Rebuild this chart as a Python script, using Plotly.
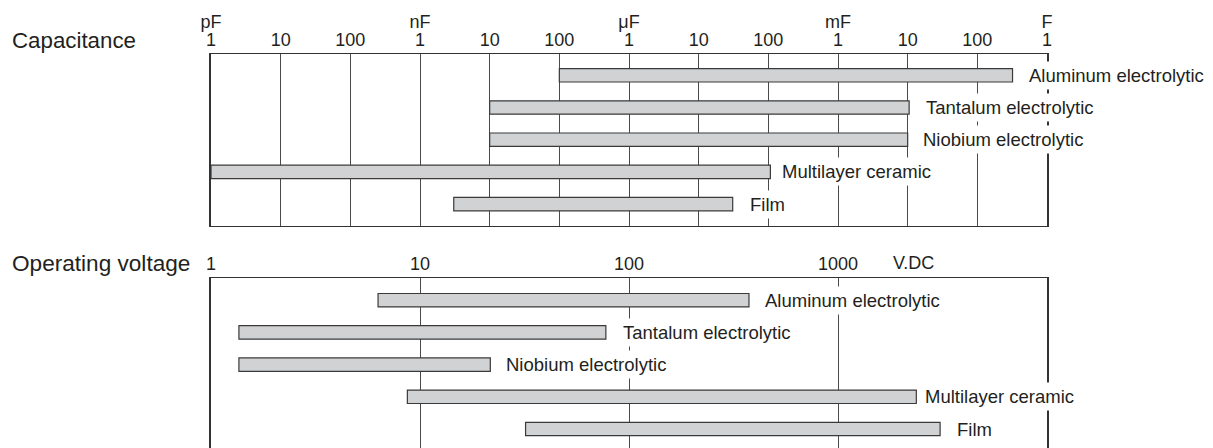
import math
import plotly.graph_objects as go

# ---------------- data ----------------
categories = ["Aluminum electrolytic", "Tantalum electrolytic", "Niobium electrolytic",
              "Multilayer ceramic", "Film"]

# capacitance ranges in farads
cap_low = [1e-7, 1e-8, 1e-8, 1e-12, 3.05e-9]
cap_high = [0.32, 0.0105, 0.01, 1.07e-4, 3.08e-5]

# operating voltage ranges in V.DC
volt_low = [6.3, 1.36, 1.36, 8.7, 32]
volt_high = [375, 77.5, 21.7, 2370, 3080]

cap_tickvals = [1e-12, 1e-11, 1e-10, 1e-9, 1e-8, 1e-7, 1e-6, 1e-5, 1e-4, 1e-3, 1e-2, 1e-1, 1e0]
cap_ticktext = ["1", "10", "100", "1", "10", "100", "1", "10", "100", "1", "10", "100", "1"]
cap_unitvals = [1e-12, 1e-9, 1e-6, 1e-3, 1e0]
cap_unittext = ["pF", "nF", "μF", "mF", "F"]

volt_tickvals = [1, 10, 100, 1000]
volt_ticktext = ["1", "10", "100", "1000"]
volt_unit = "V.DC"

# ---------------- layout helpers ----------------
PAGE_OFF = 8                      # body margin of the html page
W, H = 1213 - PAGE_OFF, 448 - PAGE_OFF
FONT = "Liberation Sans, Arial, Helvetica, sans-serif"
TXT = "#231f20"
GRID = "#4a4a4a"
BAR_FILL = "#d1d2d4"
BAR_LINE = "#3a3a3a"

def px_x(x):
    return (x - PAGE_OFF) / W

def px_y(y):
    return 1 - (y - PAGE_OFF) / H

PX0, PX1 = 211, 1047
TOP_Y0, TOP_Y1 = 54, 226
BOT_Y0, BOT_Y1 = 278, 448
ROW = 32.2
BAR_T = 13.4

n = len(categories)
rows = list(range(n))

def yrange(y0, y1, first):
    top = -first / ROW
    bottom = top + (y1 - y0) / ROW
    return [bottom, top]

cap_gap = [16, 17, 15, 12, 17]
volt_gap = [16, 17, 16, 9, 17]

fig = go.Figure()

fig.add_trace(go.Bar(
    y=rows, x=[h - l for l, h in zip(cap_low, cap_high)], base=cap_low,
    orientation="h", width=BAR_T / ROW,
    marker=dict(color=BAR_FILL, line=dict(color=BAR_LINE, width=1.2)),
    xaxis="x", yaxis="y", hoverinfo="skip", showlegend=False))

fig.add_trace(go.Bar(
    y=rows, x=[h - l for l, h in zip(volt_low, volt_high)], base=volt_low,
    orientation="h", width=BAR_T / ROW,
    marker=dict(color=BAR_FILL, line=dict(color=BAR_LINE, width=1.2)),
    xaxis="x2", yaxis="y2", hoverinfo="skip", showlegend=False))

# invisible trace for the unit axis
fig.add_trace(go.Scatter(x=[cap_unitvals[0]], y=[0], xaxis="x3", yaxis="y",
                         mode="markers", marker=dict(opacity=0), hoverinfo="skip",
                         showlegend=False))

dom_x = [px_x(PX0), px_x(PX1)]
axis_common = dict(type="log", showline=True, linecolor="#333333", linewidth=1.3,
                   showgrid=True, gridcolor=GRID, gridwidth=1, ticks="",
                   tickfont=dict(family=FONT, size=18, color=TXT), zeroline=False,
                   side="top", fixedrange=True, automargin=False)

fig.update_layout(
    width=W, height=H, margin=dict(l=0, r=0, t=0, b=0, autoexpand=False),
    paper_bgcolor="white", plot_bgcolor="white", barmode="overlay",
    xaxis=dict(domain=dom_x, anchor="y", range=[-12, 0], tickvals=cap_tickvals,
               ticktext=cap_ticktext, mirror=True, ticklabelstandoff=0, **axis_common),
    xaxis3=dict(overlaying="x", anchor="y", type="log", range=[-12, 0], side="top",
                tickvals=cap_unitvals, ticktext=cap_unittext, showgrid=False,
                showline=False, ticks="", ticklabelstandoff=21, zeroline=False,
                automargin=False,
                tickfont=dict(family=FONT, size=18, color=TXT)),
    yaxis=dict(domain=[px_y(TOP_Y1), px_y(TOP_Y0)], anchor="x",
               range=yrange(TOP_Y0, TOP_Y1, 21.3),
               showticklabels=False, showgrid=False, zeroline=False, showline=True,
               linecolor="#333333", linewidth=1.5, mirror=True, ticks="", fixedrange=True,
               automargin=False),
    xaxis2=dict(domain=dom_x, anchor="y2", range=[0, 4], tickvals=volt_tickvals,
                ticktext=volt_ticktext, mirror=False, ticklabelstandoff=0, **axis_common),
    yaxis2=dict(domain=[0, px_y(BOT_Y0)], anchor="x2", range=yrange(BOT_Y0, BOT_Y1, 22.2),
                showticklabels=False, showgrid=False, zeroline=False, showline=True,
                linecolor="#333333", linewidth=1.5, mirror=True, ticks="", fixedrange=True,
                automargin=False),
)

ann = []
label_font = dict(family=FONT, size=18.5, color=TXT)
for i, name in enumerate(categories):
    ann.append(dict(x=math.log10(cap_high[i]), y=rows[i], xref="x", yref="y", text=name,
                    showarrow=False, xanchor="left", yanchor="middle", xshift=cap_gap[i] - 4,
                    bgcolor="white", borderpad=3, font=label_font))
    ann.append(dict(x=math.log10(volt_high[i]), y=rows[i], xref="x2", yref="y2", text=name,
                    showarrow=False, xanchor="left", yanchor="middle", xshift=volt_gap[i] - 4,
                    bgcolor="white", borderpad=3, font=label_font))

ann.append(dict(x=3.362, y=px_y(263), xref="x2", yref="paper", text=volt_unit,
                showarrow=False, xanchor="center", yanchor="middle",
                font=dict(family=FONT, size=18, color=TXT)))
ann.append(dict(x=px_x(10), y=px_y(40), xref="paper", yref="paper", text="Capacitance",
                showarrow=False, xanchor="left", yanchor="middle",
                font=dict(family=FONT, size=22.3, color=TXT)))
ann.append(dict(x=px_x(10), y=px_y(263), xref="paper", yref="paper", text="Operating voltage",
                showarrow=False, xanchor="left", yanchor="middle",
                font=dict(family=FONT, size=22.6, color=TXT)))
fig.update_layout(annotations=ann)

fig.write_html("out.html")
